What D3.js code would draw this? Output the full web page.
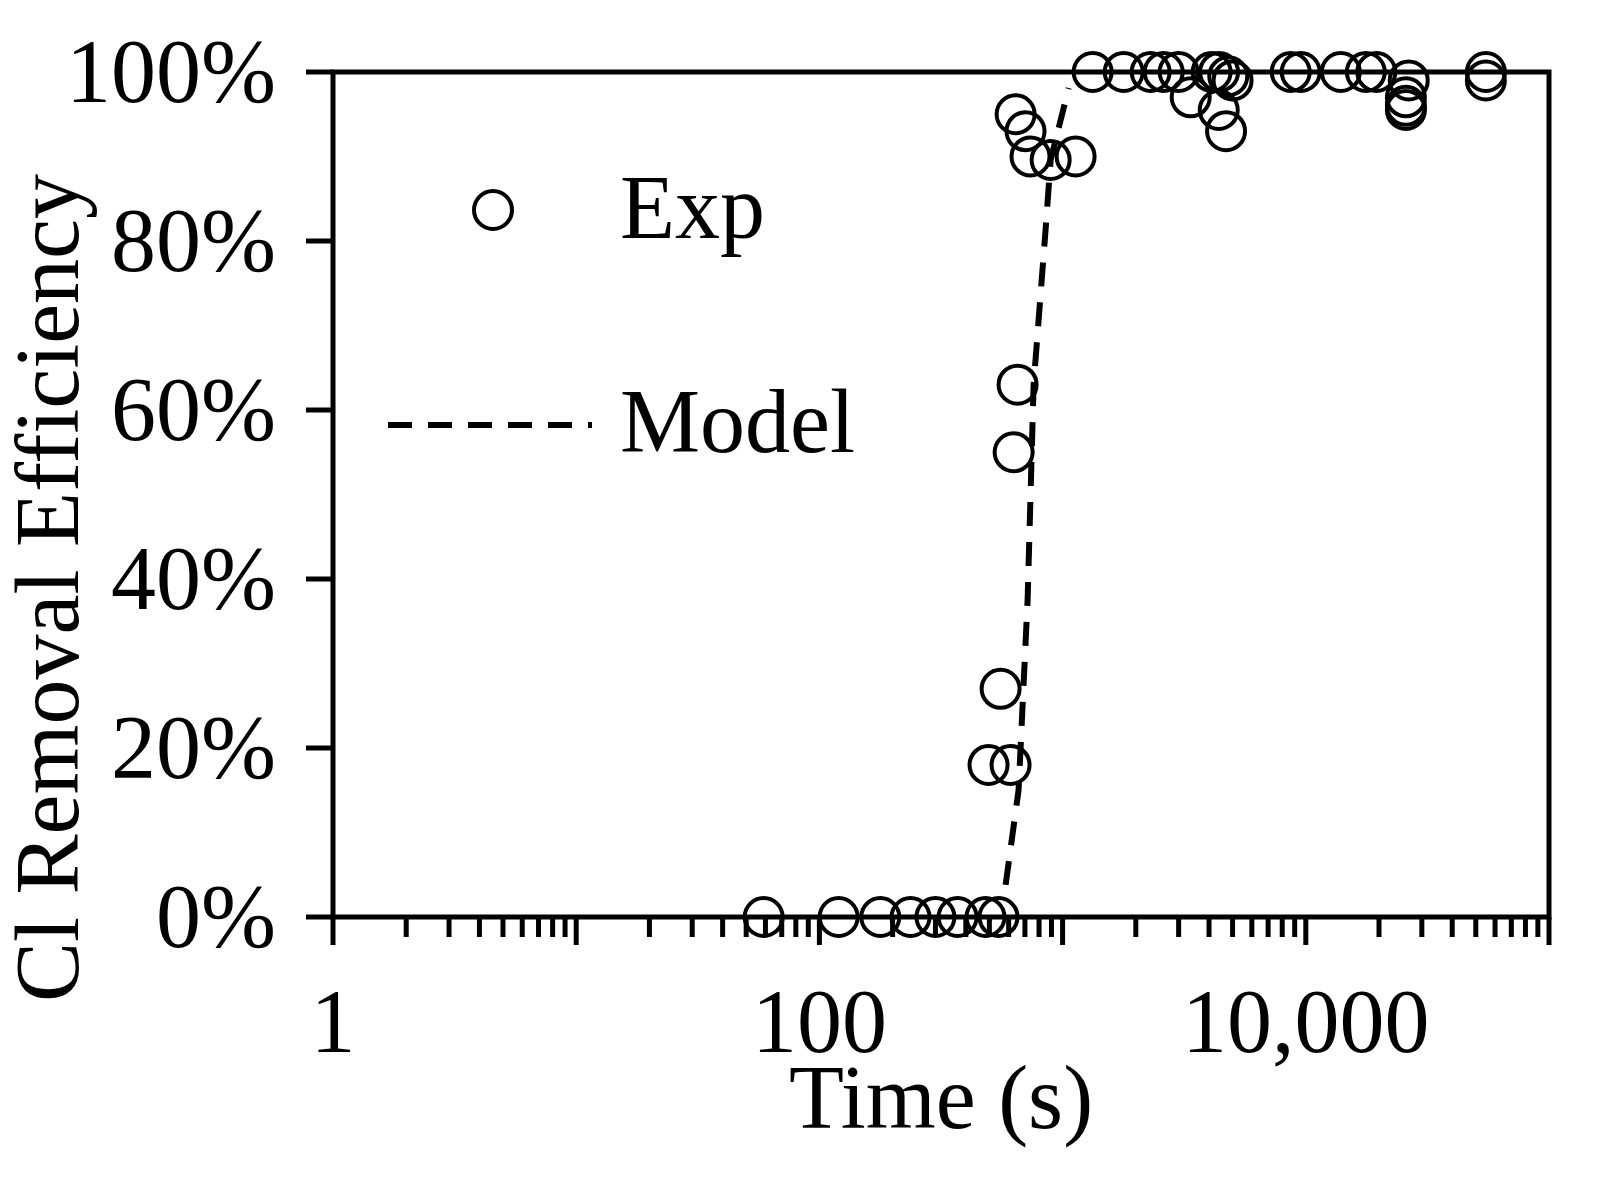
<!DOCTYPE html>
<html><head><meta charset="utf-8">
<script src="https://cdn.jsdelivr.net/npm/d3@7"></script>
<style>body{margin:0;background:#fff}text{font-family:"Liberation Serif","Times New Roman",serif}</style>
</head><body>
<svg id="chart" width="1601" height="1187"></svg>
<script>
// experimental points: time (s), removal efficiency (%)
var expTime = [59, 120, 178, 237, 300, 370, 482, 545, 496, 611, 556, 629, 653, 641, 704, 738, 893, 1131,
               1329, 1783, 2302, 2604, 3000, 3363, 4385, 4100, 4400, 4800, 4700, 5000, 8670, 9530, 13930, 17650, 19500,
               25800, 25800, 25800, 26500, 55000, 55000];
var expEff = [0, 0, 0, 0, 0, 0, 0, 0, 18, 18, 27, 55, 63, 95, 93, 90, 89.6, 90,
              100, 100, 100, 100, 100, 97, 95.5, 100, 100, 99.5, 93, 99, 100, 100, 100, 100, 100,
              97, 96, 95.5, 99, 100, 99];
var modelTime = [583, 659, 718, 760, 851, 893, 1059];
var modelEff = [3.8, 15, 37.5, 63, 81.3, 89.6, 98.1];
var xTicks = [1, 100, 10000];
var yTicks = [0, 20, 40, 60, 80, 100];

var svg = d3.select('#chart');
var x = d3.scaleLog().domain([1, 100000]).range([333, 1549]);
var y = d3.scaleLinear().domain([0, 100]).range([917, 72]);

// minor + major ticks on x
var minor = [];
for (var d = 1; d < 100000; d *= 10) for (var k = 1; k < 10; k++) minor.push(d * k);
minor.push(100000);
svg.selectAll('.xt').data(minor).enter().append('line')
   .attr('x1', function(d){return x(d);}).attr('x2', function(d){return x(d);})
   .attr('y1', 917).attr('y2', function(d){return Math.abs(Math.log10(d) - Math.round(Math.log10(d))) < 1e-9 ? 945 : 937;})
   .style('stroke', 'black').style('stroke-width', 5);
svg.selectAll('.xl').data(xTicks).enter().append('text')
   .attr('x', function(d){return x(d);}).attr('y', 1052).attr('text-anchor', 'middle')
   .style('font-size', '90px').text(function(d){return d3.format(',')(d);});

svg.selectAll('.yt').data(yTicks).enter().append('line')
   .attr('x1', 306).attr('x2', 333).attr('y1', function(d){return y(d);}).attr('y2', function(d){return y(d);})
   .style('stroke', 'black').style('stroke-width', 5);
svg.selectAll('.yl').data(yTicks).enter().append('text')
   .attr('x', 276).attr('y', function(d){return y(d) + 30;}).attr('text-anchor', 'end')
   .style('font-size', '90px').text(function(d){return d + '%';});

svg.append('rect').attr('x', 333).attr('y', 72).attr('width', 1216).attr('height', 845)
   .style('fill', 'none').style('stroke', 'black').style('stroke-width', 5);

var line = d3.line().x(function(d){return x(d[0]);}).y(function(d){return y(d[1]);});
svg.append('path').datum(d3.zip(modelTime, modelEff)).attr('d', line)
   .style('fill', 'none').style('stroke', 'black').style('stroke-width', 6).style('stroke-dasharray', '24,16');

svg.selectAll('.pt').data(d3.zip(expTime, expEff)).enter().append('circle')
   .attr('cx', function(d){return x(d[0]);}).attr('cy', function(d){return y(d[1]);}).attr('r', 19)
   .style('fill', 'none').style('stroke', 'black').style('stroke-width', 4);

// legend
svg.append('circle').attr('cx', 493).attr('cy', 210).attr('r', 19)
   .style('fill', 'none').style('stroke', 'black').style('stroke-width', 4);
svg.append('text').attr('x', 620).attr('y', 238).style('font-size', '90px').text('Exp');
svg.append('line').attr('x1', 388).attr('x2', 592).attr('y1', 425).attr('y2', 425)
   .style('stroke', 'black').style('stroke-width', 6).style('stroke-dasharray', '24,16');
svg.append('text').attr('x', 620).attr('y', 452).style('font-size', '90px').text('Model');

svg.append('text').attr('x', 941).attr('y', 1128).attr('text-anchor', 'middle')
   .style('font-size', '90px').text('Time (s)');
svg.append('text').attr('transform', 'translate(78,' + 588 + ') rotate(-90)').attr('text-anchor', 'middle')
   .style('font-size', '90px').text('Cl Removal Efficiency');
</script>
</body></html>
